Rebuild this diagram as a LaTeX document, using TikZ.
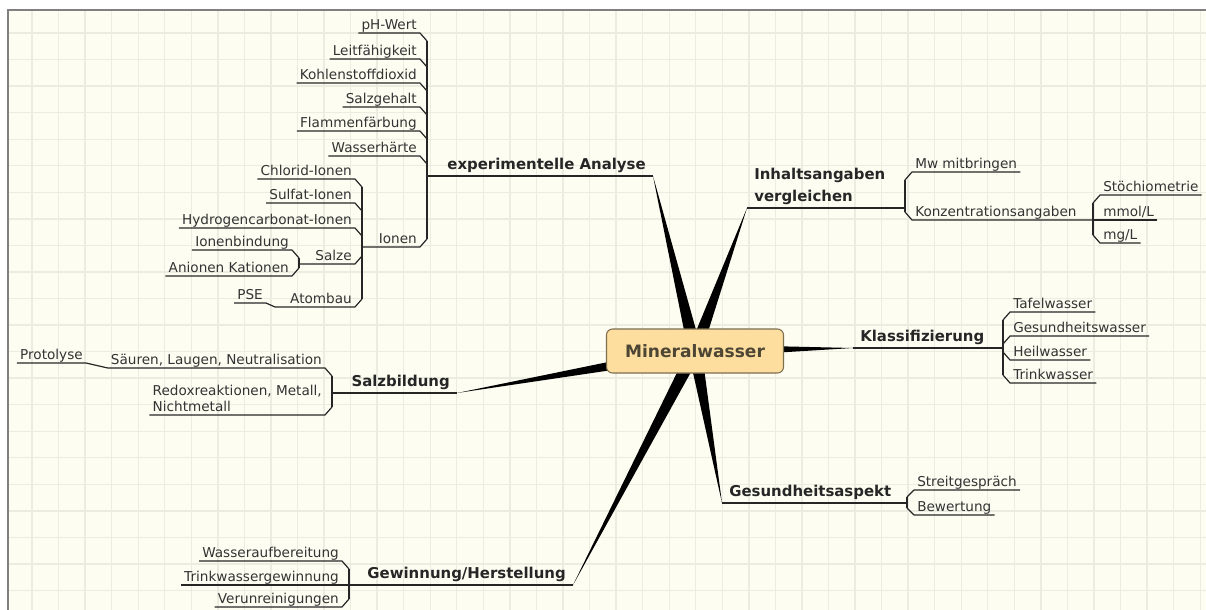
\documentclass[tikz,border=0pt]{standalone}
\usepackage{fontspec}
\setmainfont{DejaVu Sans}
\usepackage{tikz}
\usetikzlibrary{calc}
\definecolor{paper}{RGB}{253,253,242}
\definecolor{gridc}{RGB}{235,237,225}
\definecolor{rootfill}{RGB}{253,222,158}
\definecolor{rootdraw}{RGB}{125,110,80}
\definecolor{roottext}{RGB}{78,70,52}

\begin{document}
\begin{tikzpicture}[x=0.75pt, y=-0.75pt,
  root/.style = {draw=rootdraw, fill=rootfill, rounded corners=4.5pt, line width=0.8pt, minimum width=132.75pt, minimum height=33pt, font=\fontsize{12.8}{14}\selectfont\bfseries, text=roottext},
  topic/.style = {font=\fontsize{11.2}{16.5}\selectfont\bfseries, text=black!85, inner xsep=0pt, inner ysep=2.5pt, text depth=2pt, align=left},
  leaf/.style = {font=\fontsize{10.2}{12}\selectfont, text=black!80, inner xsep=2.25pt, inner ysep=0.75pt, text depth=1.5pt, align=left},
  line/.style = {line width=0.9pt, draw=black!85, line join=round},
  wedge/.style = {fill=black},
  gridline/.style = {draw=gridc, line width=1pt}]
            \useasboundingbox (0,0) rectangle (1206,610);
            % Paper
            \fill[white] (0,0) rectangle (1206,610);
            \fill[paper] (8,10) rectangle (1206,610);
            \foreach \i in {0,...,44} \draw[gridline] ({32+26.55*\i},11) -- ({32+26.55*\i},610);
            \foreach \j in {0,...,21} \draw[gridline] (9,{33+26.55*\j}) -- (1206,{33+26.55*\j});
            \draw[gray, line width=1.3pt] (8,610) -- (8,10) -- (1206,10);
            % Branch points
            \coordinate (c) at (695,351);
            \coordinate (ana-e) at (653,176);
            \coordinate (ana-s) at (427,176);
            \coordinate (ion-s) at (362,247);
            \coordinate (salze-s) at (299,264);
            \coordinate (atom-s) at (275,307);
            \coordinate (inh-e) at (747,208);
            \coordinate (inh-s) at (905,208);
            \coordinate (konz-s) at (1093,220);
            \coordinate (kla-e) at (853,348);
            \coordinate (kla-s) at (1003,348);
            \coordinate (ges-e) at (722,503);
            \coordinate (ges-s) at (907,503);
            \coordinate (gew-e) at (573,585);
            \coordinate (gew-s) at (349,585);
            \coordinate (sal-e) at (457,393);
            \coordinate (sal-s) at (332,393);
            % Wedges
            \fill[wedge] (ana-e) -- ($(c)!5pt!90:(ana-e)$) -- ($(c)!5pt!-90:(ana-e)$) -- cycle;
            \fill[wedge] (inh-e) -- ($(c)!5pt!90:(inh-e)$) -- ($(c)!5pt!-90:(inh-e)$) -- cycle;
            \fill[wedge] (kla-e) -- ($(c)!5pt!90:(kla-e)$) -- ($(c)!5pt!-90:(kla-e)$) -- cycle;
            \fill[wedge] (ges-e) -- ($(c)!5pt!90:(ges-e)$) -- ($(c)!5pt!-90:(ges-e)$) -- cycle;
            \fill[wedge] (gew-e) -- ($(c)!5pt!90:(gew-e)$) -- ($(c)!5pt!-90:(gew-e)$) -- cycle;
            \fill[wedge] (sal-e) -- ($(c)!5pt!90:(sal-e)$) -- ($(c)!5pt!-90:(sal-e)$) -- cycle;
            % Nodes
            \node[root] (mw) at (c) {Mineralwasser};
            \node[topic, anchor=south east] (ana) at (646,176) {experimentelle Analyse};
            \node[leaf, anchor=south east] (ph) at (420,33) {pH-Wert};
            \node[leaf, anchor=south east] (leit) at (420,59) {Leitfähigkeit};
            \node[leaf, anchor=south east] (co2) at (420,83) {Kohlenstoffdioxid};
            \node[leaf, anchor=south east] (salz) at (420,107) {Salzgehalt};
            \node[leaf, anchor=south east] (flam) at (420,131) {Flammenfärbung};
            \node[leaf, anchor=south east] (hart) at (420,156) {Wasserhärte};
            \node[leaf, anchor=south east] (ion) at (420,247) {Ionen};
            \node[leaf, anchor=south east] (chl) at (355,179) {Chlorid-Ionen};
            \node[leaf, anchor=south east] (sulf) at (355,203) {Sulfat-Ionen};
            \node[leaf, anchor=south east] (hyd) at (355,228) {Hydrogencarbonat-Ionen};
            \node[leaf, anchor=south east] (salze) at (355,264) {Salze};
            \node[leaf, anchor=south east] (atom) at (355,307) {Atombau};
            \node[leaf, anchor=south east] (bind) at (292,250) {Ionenbindung};
            \node[leaf, anchor=south east] (anka) at (292,276) {Anionen Kationen};
            \node[leaf, anchor=south east] (pse) at (266,303) {PSE};
            \node[topic, anchor=south west] (inh) at (754,208) {Inhaltsangaben\\vergleichen};
            \node[leaf, anchor=south west] (mwm) at (912,172) {Mw mitbringen};
            \node[leaf, anchor=south west] (konz) at (912,220) {Konzentrationsangaben};
            \node[leaf, anchor=south west] (stoe) at (1100,195) {Stöchiometrie};
            \node[leaf, anchor=south west] (mmol) at (1100,220) {mmol/L};
            \node[leaf, anchor=south west] (mg) at (1100,243) {mg/L};
            \node[topic, anchor=south west] (kla) at (860,348) {Klassifizierung};
            \node[leaf, anchor=south west] (tafel) at (1010,312) {Tafelwasser};
            \node[leaf, anchor=south west] (gesw) at (1010,336) {Gesundheitswasser};
            \node[leaf, anchor=south west] (heil) at (1010,360) {Heilwasser};
            \node[leaf, anchor=south west] (trink) at (1010,383) {Trinkwasser};
            \node[topic, anchor=south west] (ges) at (729,503) {Gesundheitsaspekt};
            \node[leaf, anchor=south west] (streit) at (914,490) {Streitgespräch};
            \node[leaf, anchor=south west] (bew) at (914,515) {Bewertung};
            \node[topic, anchor=south east] (gew) at (566,585) {Gewinnung/Herstellung};
            \node[leaf, anchor=south east] (aufb) at (342,561) {Wasseraufbereitung};
            \node[leaf, anchor=south east] (tgew) at (342,585) {Trinkwassergewinnung};
            \node[leaf, anchor=south east] (verun) at (342,607) {Verunreinigungen};
            \node[topic, anchor=south east] (sal) at (450,393) {Salzbildung};
            \node[leaf, anchor=south east] (saeu) at (325,368) {Säuren, Laugen, Neutralisation};
            \node[leaf, anchor=south east] (redox) at (325,415) {Redoxreaktionen, Metall,\\Nichtmetall};
            \node[leaf, anchor=south east] (prot) at (86,363) {Protolyse};
            % Edges
            \draw[line] (ana-s) -- (ana-e);
            \draw[line] (ph.south west) -- (ph.south east) -- ++(7,8);
            \draw[line] (leit.south west) -- (leit.south east) -- ++(7,8);
            \draw[line] (co2.south west) -- (co2.south east) -- ++(7,8);
            \draw[line] (salz.south west) -- (salz.south east) -- ++(7,8);
            \draw[line] (flam.south west) -- (flam.south east) -- ++(7,8);
            \draw[line] (hart.south west) -- (hart.south east) -- ++(7,8);
            \draw[line] (ion-s) -- (ion.south east) -- ++(7,-8);
            \draw[line] ($(ph.south east)+(7,8)$) -- ($(ion.south east)+(7,-8)$);
            \draw[line] (chl.south west) -- (chl.south east) -- ++(7,8);
            \draw[line] (sulf.south west) -- (sulf.south east) -- ++(7,8);
            \draw[line] (hyd.south west) -- (hyd.south east) -- ++(7,8);
            \draw[line] (salze-s) -- (salze.south east) -- ++(7,-8);
            \draw[line] (atom-s) -- (atom.south east) -- ++(7,-8);
            \draw[line] ($(chl.south east)+(7,8)$) -- ($(atom.south east)+(7,-8)$);
            \draw[line] (bind.south west) -- (bind.south east) -- ++(7,8);
            \draw[line] (anka.south west) -- (anka.south east) -- ++(7,-8);
            \draw[line] ($(bind.south east)+(7,8)$) -- ($(anka.south east)+(7,-8)$);
            \draw[line] (pse.south west) -- (pse.south east) -- (atom-s);
            \draw[line] (inh-e) -- (inh-s);
            \draw[line] (mwm.south east) -- (mwm.south west) -- ++(-7,8);
            \draw[line] (konz-s) -- (konz.south west) -- ++(-7,-8);
            \draw[line] ($(mwm.south west)+(-7,8)$) -- ($(konz.south west)+(-7,-8)$);
            \draw[line] (stoe.south east) -- (stoe.south west) -- ++(-7,8);
            \draw[line] (mmol.south east) -- (konz-s);
            \draw[line] (mg.south east) -- (mg.south west) -- ++(-7,-8);
            \draw[line] ($(stoe.south west)+(-7,8)$) -- ($(mg.south west)+(-7,-8)$);
            \draw[line] (kla-e) -- (kla-s);
            \draw[line] (tafel.south east) -- (tafel.south west) -- ++(-7,8);
            \draw[line] (gesw.south east) -- (gesw.south west) -- ++(-7,8);
            \draw[line] (heil.south east) -- (heil.south west) -- ++(-7,-8);
            \draw[line] (trink.south east) -- (trink.south west) -- ++(-7,-8);
            \draw[line] ($(tafel.south west)+(-7,8)$) -- ($(trink.south west)+(-7,-8)$);
            \draw[line] (ges-e) -- (ges-s);
            \draw[line] (streit.south east) -- (streit.south west) -- ++(-7,7);
            \draw[line] (bew.south east) -- (bew.south west) -- ++(-7,-7);
            \draw[line] ($(streit.south west)+(-7,7)$) -- ($(bew.south west)+(-7,-7)$);
            \draw[line] (gew-s) -- (gew-e);
            \draw[line] (aufb.south west) -- (aufb.south east) -- ++(7,8);
            \draw[line] (tgew.south west) -- (tgew.south east) -- (gew-s);
            \draw[line] (verun.south west) -- (verun.south east) -- ++(7,-8);
            \draw[line] ($(aufb.south east)+(7,8)$) -- ($(verun.south east)+(7,-8)$);
            \draw[line] (sal-s) -- (sal-e);
            \draw[line] (saeu.south west) -- (saeu.south east) -- ++(7,8);
            \draw[line] (redox.south west) -- (redox.south east) -- ++(7,-8);
            \draw[line] ($(saeu.south east)+(7,8)$) -- ($(redox.south east)+(7,-8)$);
            \draw[line] (prot.south west) -- (prot.south east) -- (saeu.south west);
\end{tikzpicture}
\end{document}
